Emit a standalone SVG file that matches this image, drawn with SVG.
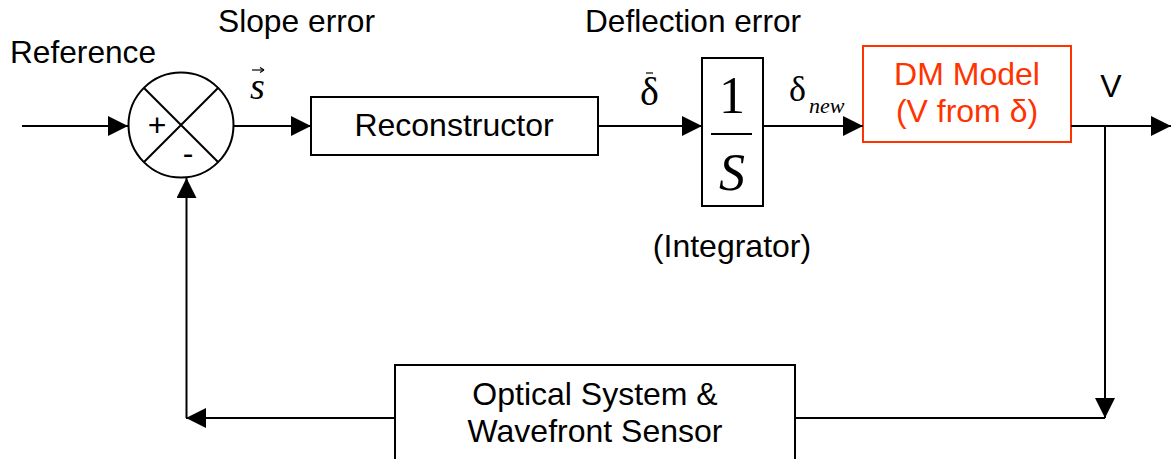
<svg xmlns="http://www.w3.org/2000/svg" width="1171" height="459" viewBox="0 0 1171 459">
<style>
.lbl{font-family:"Liberation Sans",Arial,sans-serif;font-size:32px;fill:#000}
.math{font-family:"Liberation Serif","Times New Roman",serif;fill:#000}
.box{fill:#fff;stroke:#000;stroke-width:2}
.red{fill:#fff;stroke:#FF3300;stroke-width:2}
.rtxt{font-family:"Liberation Sans",Arial,sans-serif;font-size:32px;fill:#FF3300}
.wire{fill:none;stroke:#000;stroke-width:2}
</style>
<defs>
<marker id="ah" viewBox="0 0 20 20" refX="20" refY="10" markerWidth="20" markerHeight="20" markerUnits="userSpaceOnUse" orient="auto">
<path d="M0,0 L20,10 L0,20 z" fill="#000"/>
</marker>
</defs>
<rect width="1171" height="459" fill="#fff"/>

<g id="labels">
<text class="lbl" x="10" y="63" textLength="146" lengthAdjust="spacingAndGlyphs">Reference</text>
<text class="lbl" x="218" y="32" textLength="157" lengthAdjust="spacingAndGlyphs">Slope error</text>
<text class="lbl" x="585" y="32" textLength="216" lengthAdjust="spacingAndGlyphs">Deflection error</text>
<text class="lbl" x="1111" y="97" text-anchor="middle">V</text>
<text class="lbl" x="732" y="257" text-anchor="middle">(Integrator)</text>
<!-- s vector -->
<text class="math" x="250" y="99" font-size="38" font-style="italic">s</text>
<path d="M252,70 H264" stroke="#000" stroke-width="1.2" fill="none"/>
<path d="M264,70 l-4,-2.5 M264,70 l-4,2.5" stroke="#000" stroke-width="1.2" fill="none"/>
<!-- delta bar -->
<text class="math" x="640" y="105" font-size="40">δ</text>
<path d="M646,73 H653" stroke="#000" stroke-width="1.2" fill="none"/>
<!-- delta new -->
<text class="math" x="789" y="101" font-size="36">δ</text>
<text class="math" x="809" y="113" font-size="22" font-style="italic">new</text>
</g>

<g id="sum">
<circle cx="181" cy="125" r="52.5" fill="#fff" stroke="#000" stroke-width="2"/>
<path d="M144,88 L218,162 M218,88 L144,162" class="wire"/>
<text class="lbl" x="157" y="136" text-anchor="middle" font-size="24">+</text>
<text class="lbl" x="188" y="164" text-anchor="middle" font-size="24">-</text>
</g>

<g id="reconstructor">
<rect class="box" x="311" y="97" width="287" height="58"/>
<text class="lbl" x="454" y="136" text-anchor="middle">Reconstructor</text>
</g>

<g id="integrator">
<rect class="box" x="702" y="58" width="61" height="148"/>
<text class="math" x="732" y="113" font-size="52" text-anchor="middle">1</text>
<path d="M711,134 H752" stroke="#000" stroke-width="2"/>
<text class="math" x="732" y="190" font-size="52" font-style="italic" text-anchor="middle">S</text>
</g>

<g id="dm">
<rect class="red" x="863" y="46" width="208" height="96"/>
<text class="rtxt" x="967" y="85" text-anchor="middle">DM Model</text>
<text class="rtxt" x="967" y="122" text-anchor="middle">(V from δ)</text>
</g>

<g id="optical">
<rect class="box" x="395" y="365" width="400" height="110"/>
<text class="lbl" x="595" y="405" text-anchor="middle">Optical System &amp;</text>
<text class="lbl" x="595" y="442" text-anchor="middle">Wavefront Sensor</text>
</g>

<g id="connectors">
<path class="wire" d="M22,126 H128" marker-end="url(#ah)"/>
<path class="wire" d="M233,126 H311" marker-end="url(#ah)"/>
<path class="wire" d="M598,126 H702" marker-end="url(#ah)"/>
<path class="wire" d="M763,126 H863" marker-end="url(#ah)"/>
<path class="wire" d="M1071,126 H1171" marker-end="url(#ah)"/>
<path class="wire" d="M1105,126 V418" marker-end="url(#ah)"/>
<path class="wire" d="M1105,418 H795"/>
<path class="wire" d="M395,418 H186" marker-end="url(#ah)"/>
<path class="wire" d="M186.5,418 V178" marker-end="url(#ah)"/>
</g>
</svg>
